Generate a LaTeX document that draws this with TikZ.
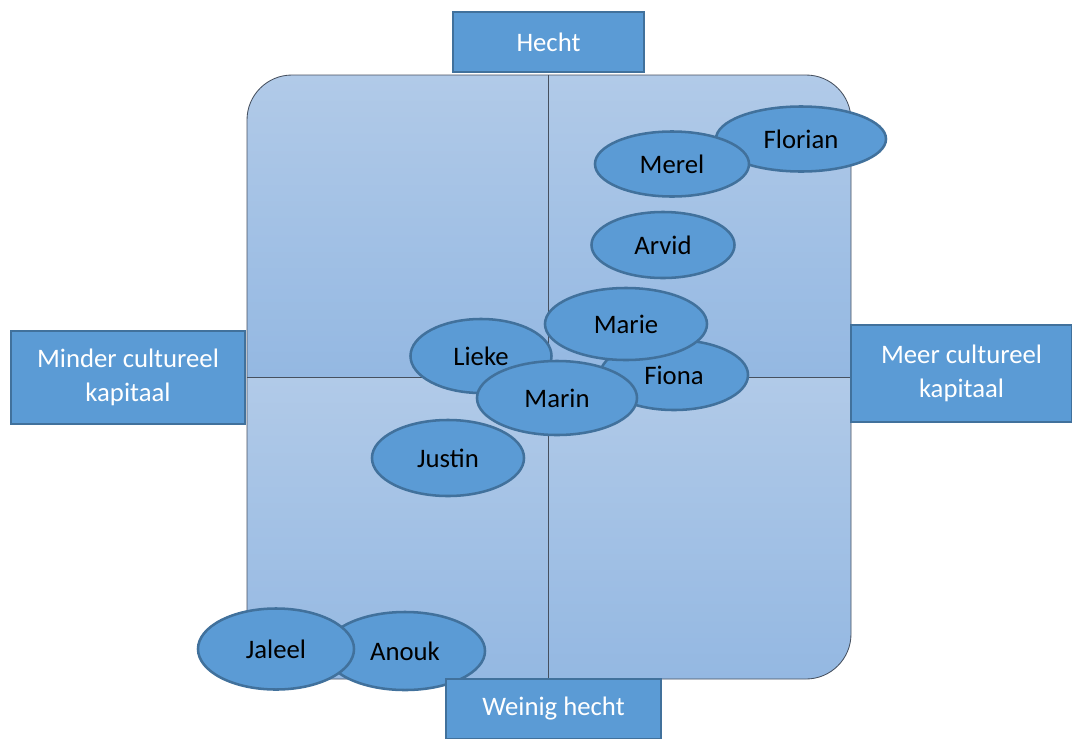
\documentclass[tikz,border=0pt]{standalone}
\usepackage{fontspec}
\setmainfont{Carlito}
\usetikzlibrary{shapes.geometric}
\definecolor{nodeblue}{RGB}{91,155,213}
\definecolor{nodeedge}{RGB}{65,113,156}
\definecolor{quadtop}{RGB}{177,202,232}
\definecolor{quadbot}{RGB}{148,184,226}
\definecolor{quadline}{RGB}{70,80,95}

\begin{document}
\begin{tikzpicture}[x=0.025cm,y=-0.025cm,
  name node/.style={ellipse,fill=nodeblue,draw=nodeedge,line width=1.8pt,inner sep=0pt,font=\fontsize{19}{23}\selectfont},
  axis node/.style={rectangle,fill=nodeblue,draw=nodeedge,line width=1.5pt,text=white,align=center,inner sep=0pt,font=\fontsize{19}{24}\selectfont}]
  \useasboundingbox (0,0) rectangle (1072,738);

  \begin{scope}
    \clip[rounded corners=1.125cm] (247,75) rectangle (851,679);
    \shade[top color=quadtop,bottom color=quadbot] (247,75) rectangle (548,377);
    \shade[top color=quadtop,bottom color=quadbot] (548,75) rectangle (851,377);
    \shade[top color=quadtop,bottom color=quadbot] (247,377) rectangle (548,679);
    \shade[top color=quadtop,bottom color=quadbot] (548,377) rectangle (851,679);
  \end{scope}
  \draw[quadline,line width=0.6pt,rounded corners=1.125cm] (247,75) rectangle (851,679);
  \coordinate (top) at (548,75);
  \coordinate (bottom) at (548,679);
  \coordinate (left) at (247,377);
  \coordinate (right) at (851,377);
  \draw[quadline,line width=0.6pt] (top) -- (bottom);
  \draw[quadline,line width=0.6pt] (left) -- (right);

  \node[name node,minimum width=4.25cm,minimum height=1.625cm] (florian) at (801,139) {Florian};
  \node[name node,minimum width=3.85cm,minimum height=1.625cm] (merel) at (672,164) {Merel};
  \node[name node,minimum width=3.575cm,minimum height=1.65cm] (arvid) at (663,245) {Arvid};
  \node[name node,minimum width=3.7cm,minimum height=1.75cm] (fiona) at (674,375) {Fiona};
  \node[name node,minimum width=4.05cm,minimum height=1.8cm] (marie) at (626,324) {Marie};
  \node[name node,minimum width=3.525cm,minimum height=1.85cm] (lieke) at (481,356) {Lieke};
  \node[name node,minimum width=4cm,minimum height=1.85cm] (marin) at (557,398) {Marin};
  \node[name node,minimum width=3.8cm,minimum height=1.9cm] (justin) at (448,458) {Justin};
  \node[name node,minimum width=4cm,minimum height=1.95cm] (anouk) at (405,651) {Anouk};
  \node[name node,minimum width=3.9cm,minimum height=2.025cm] (jaleel) at (276,649) {Jaleel};

  \node[axis node,minimum width=4.775cm,minimum height=1.5cm] (hecht) at (548.5,42) {Hecht};
  \node[axis node,minimum width=5.85cm,minimum height=2.325cm] (minder) at (128,377.5) {Minder cultureel\\kapitaal};
  \node[axis node,minimum width=5.525cm,minimum height=2.425cm] (meer) at (961.5,373.5) {Meer cultureel\\kapitaal};
  \node[axis node,minimum width=5.375cm,minimum height=1.5cm] (weinig) at (553.5,709) {Weinig hecht};
\end{tikzpicture}
\end{document}
